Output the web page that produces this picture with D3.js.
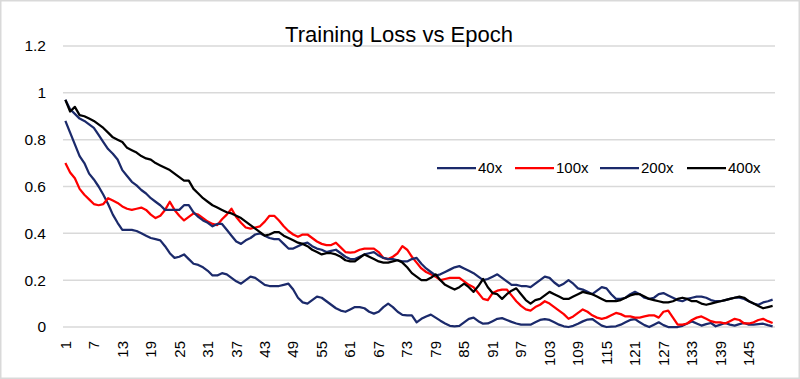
<!DOCTYPE html>
<html>
<head>
<meta charset="utf-8">
<script src="https://cdn.jsdelivr.net/npm/d3@7"></script>
<style>
    body { margin: 0; background: #fff; }
    #chart text { font-family: "Liberation Sans", Arial, sans-serif; fill: #000; }
</style>
</head>
<body>
<div id="chart"></div>
<script>
// Loss values per epoch
var epochs = d3.range(1, 151);

var loss_40x = [
    0.88, 0.83, 0.78, 0.73, 0.70, 0.655, 0.63, 0.60, 0.565, 0.525,
    0.48, 0.445, 0.415, 0.415, 0.415, 0.41, 0.40, 0.39, 0.38, 0.375,
    0.37, 0.345, 0.315, 0.295, 0.30, 0.31, 0.29, 0.27, 0.265, 0.255,
    0.24, 0.22, 0.22, 0.23, 0.225, 0.21, 0.195, 0.185, 0.20, 0.215,
    0.21, 0.195, 0.18, 0.175, 0.175, 0.175, 0.18, 0.185, 0.16, 0.125,
    0.105, 0.10, 0.115, 0.13, 0.125, 0.11, 0.095, 0.08, 0.07, 0.065,
    0.075, 0.085, 0.085, 0.08, 0.065, 0.057, 0.065, 0.085, 0.10, 0.085,
    0.065, 0.052, 0.05, 0.05, 0.02, 0.035, 0.045, 0.053, 0.04, 0.027,
    0.015, 0.005, 0.003, 0.005, 0.02, 0.035, 0.04, 0.025, 0.014, 0.015,
    0.025, 0.035, 0.038, 0.03, 0.022, 0.015, 0.01, 0.01, 0.01, 0.02,
    0.03, 0.034, 0.03, 0.02, 0.01, 0.003, 0.0, 0.005, 0.014, 0.024,
    0.032, 0.034, 0.02, 0.006, 0.0, 0.002, 0.003, 0.01, 0.02, 0.03,
    0.034, 0.02, 0.008, 0.0, 0.01, 0.02, 0.008, 0.0, 0.0, 0.0,
    0.005, 0.015, 0.024, 0.015, 0.006, 0.012, 0.017, 0.003, 0.01, 0.017,
    0.01, 0.006, 0.012, 0.017, 0.01, 0.01, 0.012, 0.014, 0.008, 0.003
];

var loss_100x = [
    0.70, 0.66, 0.635, 0.59, 0.565, 0.545, 0.525, 0.52, 0.525, 0.55,
    0.54, 0.53, 0.515, 0.505, 0.50, 0.505, 0.51, 0.50, 0.48, 0.465,
    0.475, 0.50, 0.535, 0.50, 0.475, 0.455, 0.47, 0.485, 0.48, 0.465,
    0.45, 0.44, 0.435, 0.46, 0.48, 0.505, 0.47, 0.445, 0.425, 0.42,
    0.425, 0.43, 0.45, 0.475, 0.475, 0.455, 0.43, 0.41, 0.395, 0.385,
    0.395, 0.395, 0.38, 0.365, 0.355, 0.35, 0.35, 0.36, 0.34, 0.32,
    0.318, 0.32, 0.33, 0.335, 0.335, 0.335, 0.32, 0.295, 0.29, 0.30,
    0.315, 0.345, 0.33, 0.30, 0.275, 0.25, 0.235, 0.225, 0.215, 0.20,
    0.205, 0.21, 0.21, 0.21, 0.195, 0.18, 0.17, 0.145, 0.12, 0.115,
    0.145, 0.155, 0.16, 0.16, 0.135, 0.11, 0.09, 0.075, 0.07, 0.085,
    0.095, 0.11, 0.10, 0.085, 0.07, 0.055, 0.035, 0.045, 0.06, 0.075,
    0.065, 0.05, 0.04, 0.035, 0.04, 0.05, 0.06, 0.055, 0.045, 0.045,
    0.04, 0.04, 0.045, 0.05, 0.05, 0.04, 0.065, 0.07, 0.04, 0.01,
    0.01, 0.015, 0.03, 0.04, 0.045, 0.035, 0.025, 0.02, 0.02, 0.015,
    0.025, 0.035, 0.03, 0.015, 0.015, 0.02, 0.03, 0.035, 0.025, 0.017
];

var loss_200x = [
    0.97, 0.93, 0.91, 0.89, 0.88, 0.865, 0.85, 0.82, 0.79, 0.76,
    0.74, 0.715, 0.67, 0.645, 0.62, 0.605, 0.585, 0.57, 0.55, 0.535,
    0.52, 0.50, 0.50, 0.50, 0.50, 0.52, 0.52, 0.49, 0.47, 0.455,
    0.445, 0.43, 0.44, 0.44, 0.415, 0.39, 0.365, 0.355, 0.37, 0.38,
    0.395, 0.40, 0.39, 0.38, 0.375, 0.375, 0.355, 0.335, 0.335, 0.345,
    0.355, 0.36, 0.345, 0.335, 0.33, 0.32, 0.325, 0.33, 0.315, 0.30,
    0.29, 0.29, 0.30, 0.31, 0.315, 0.32, 0.305, 0.295, 0.29, 0.29,
    0.285, 0.28, 0.28, 0.29, 0.295, 0.27, 0.25, 0.235, 0.22, 0.225,
    0.235, 0.245, 0.255, 0.26, 0.25, 0.24, 0.23, 0.215, 0.20, 0.205,
    0.215, 0.225, 0.21, 0.195, 0.18, 0.18, 0.175, 0.175, 0.17, 0.185,
    0.20, 0.215, 0.21, 0.19, 0.175, 0.185, 0.20, 0.185, 0.165, 0.16,
    0.15, 0.14, 0.155, 0.17, 0.165, 0.14, 0.12, 0.12, 0.125, 0.14,
    0.15, 0.14, 0.125, 0.12, 0.125, 0.14, 0.145, 0.135, 0.125, 0.115,
    0.11, 0.12, 0.125, 0.13, 0.13, 0.125, 0.115, 0.11, 0.11, 0.115,
    0.12, 0.125, 0.125, 0.12, 0.11, 0.10, 0.095, 0.105, 0.11, 0.117
];

var loss_400x = [
    0.97, 0.92, 0.94, 0.905, 0.90, 0.89, 0.88, 0.865, 0.85, 0.83,
    0.81, 0.80, 0.79, 0.765, 0.755, 0.745, 0.73, 0.72, 0.715, 0.70,
    0.69, 0.68, 0.67, 0.655, 0.64, 0.625, 0.625, 0.59, 0.57, 0.55,
    0.535, 0.52, 0.51, 0.50, 0.49, 0.485, 0.475, 0.465, 0.45, 0.435,
    0.42, 0.405, 0.39, 0.395, 0.405, 0.405, 0.39, 0.38, 0.37, 0.36,
    0.355, 0.345, 0.33, 0.32, 0.31, 0.315, 0.315, 0.31, 0.30, 0.285,
    0.28, 0.28, 0.295, 0.31, 0.30, 0.29, 0.28, 0.275, 0.275, 0.28,
    0.285, 0.275, 0.255, 0.23, 0.215, 0.20, 0.20, 0.21, 0.225, 0.20,
    0.18, 0.17, 0.16, 0.17, 0.185, 0.17, 0.15, 0.175, 0.205, 0.17,
    0.145, 0.14, 0.12, 0.14, 0.155, 0.165, 0.14, 0.115, 0.10, 0.115,
    0.12, 0.135, 0.15, 0.14, 0.13, 0.12, 0.12, 0.13, 0.14, 0.15,
    0.145, 0.14, 0.13, 0.12, 0.11, 0.11, 0.11, 0.115, 0.125, 0.135,
    0.14, 0.14, 0.13, 0.12, 0.115, 0.11, 0.105, 0.105, 0.11, 0.12,
    0.125, 0.12, 0.11, 0.11, 0.10, 0.095, 0.10, 0.105, 0.11, 0.115,
    0.12, 0.125, 0.13, 0.125, 0.11, 0.10, 0.09, 0.08, 0.085, 0.09
];

var series_names  = ['40x', '100x', '200x', '400x'];
var series_values = [loss_40x, loss_100x, loss_200x, loss_400x];
var y_ticks       = [0, 0.2, 0.4, 0.6, 0.8, 1, 1.2];

draw_chart();

function draw_chart() {
    // Chart params
    var svg_width  = 800;
    var svg_height = 379;
    var left   = 63;
    var right  = 775;
    var top    = 46;
    var bottom = 327;

    var navy   = '#1b2a6b';
    var colors = [navy, '#ff0000', navy, '#000000'];

    var svg = d3.select('#chart')
        .append('svg')
        .attr('width', svg_width)
        .attr('height', svg_height);

    // chart frame
    svg.append('rect')
        .attr('x', 0.75)
        .attr('y', 0.75)
        .attr('width', svg_width - 1.5)
        .attr('height', svg_height - 1.5)
        .attr('fill', '#fff')
        .attr('stroke', '#d9d9d9')
        .attr('stroke-width', 1.5);

    // Scales
    var x_scale = d3.scaleBand()
        .domain(epochs)
        .range([left, right]);

    var x_mid = function(d) {
        return x_scale(d) + x_scale.bandwidth() / 2;
    };

    var y_scale = d3.scaleLinear()
        .domain([0, 1.2])
        .range([bottom, top]);

    // Gridlines
    svg.append('g')
        .selectAll('line')
        .data(y_ticks)
        .enter()
        .append('line')
        .attr('x1', left)
        .attr('x2', right)
        .attr('y1', function(d) { return y_scale(d); })
        .attr('y2', function(d) { return y_scale(d); })
        .attr('stroke', '#d9d9d9')
        .attr('stroke-width', 1.5);

    // Y axis labels
    var y_axis = d3.axisLeft(y_scale)
        .tickValues(y_ticks)
        .tickFormat(d3.format(''))
        .tickSize(0)
        .tickPadding(0);
    var y_g = svg.append('g')
        .attr('transform', 'translate(46,0)')
        .call(y_axis);
    y_g.select('.domain').remove();
    y_g.selectAll('text')
        .style('font-size', '15.5px');

    // X axis labels, every 6th epoch, rotated
    var x_axis = d3.axisBottom(x_scale)
        .tickValues(epochs.filter(function(d) { return (d - 1) % 6 === 0; }))
        .tickSize(0)
        .tickPadding(0);
    var x_g = svg.append('g')
        .attr('transform', 'translate(0,' + bottom + ')')
        .call(x_axis);
    x_g.select('.domain').remove();
    x_g.selectAll('text')
        .style('font-size', '15px')
        .attr('text-anchor', 'end')
        .attr('transform', 'rotate(-90)')
        .attr('x', -14)
        .attr('y', 0)
        .attr('dy', '0.35em');

    // Lines
    var line = d3.line()
        .x(function(d, i) { return x_mid(epochs[i]); })
        .y(function(d) { return y_scale(d); });

    svg.append('g')
        .selectAll('path')
        .data(series_values)
        .enter()
        .append('path')
        .attr('d', line)
        .attr('fill', 'none')
        .attr('stroke', function(d, i) { return colors[i]; })
        .attr('stroke-width', 2.25)
        .attr('stroke-linejoin', 'round');

    // Title
    svg.append('text')
        .attr('x', 399)
        .attr('y', 42)
        .attr('text-anchor', 'middle')
        .style('font-size', '22px')
        .text('Training Loss vs Epoch');

    // Legend
    var legend_x = [437, 515, 600, 687];
    var legend = svg.append('g')
        .selectAll('g')
        .data(series_names)
        .enter()
        .append('g')
        .attr('transform', function(d, i) {
            return 'translate(' + legend_x[i] + ',168)';
        });
    legend.append('line')
        .attr('x1', 0)
        .attr('x2', 39)
        .attr('stroke', function(d, i) { return colors[i]; })
        .attr('stroke-width', 2.25);
    legend.append('text')
        .attr('x', 41)
        .attr('dy', '0.35em')
        .style('font-size', '15px')
        .text(function(d) { return d; });
}
</script>
</body>
</html>
